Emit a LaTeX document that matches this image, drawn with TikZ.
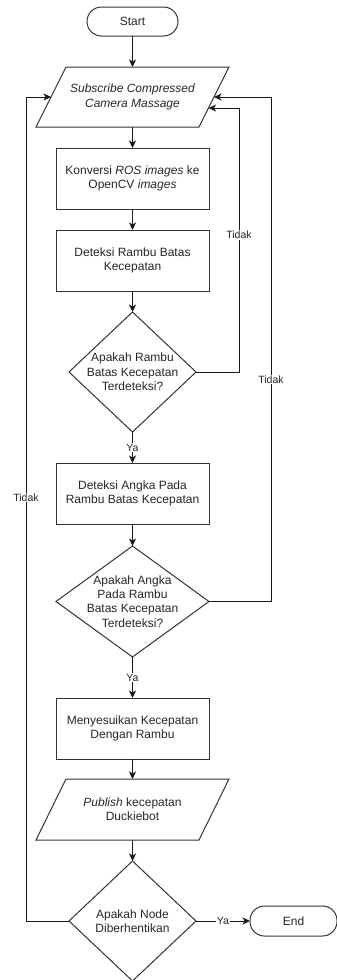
\documentclass[tikz,border=0pt]{standalone}
\usepackage{fontspec}
\setmainfont{Liberation Sans}
\usetikzlibrary{shapes.geometric,arrows.meta,calc}
\begin{document}
\begin{tikzpicture}[x=1pt,y=-1pt,
  every node/.style={font=\fontsize{12}{14.4}\selectfont, text=black!85},
  procbox/.style={draw=black!80, line width=1pt, minimum width=153pt, minimum height=61pt, inner sep=0pt, outer sep=0pt, align=center},
  decbox/.style={draw=black!80, line width=1pt, shape=diamond, inner sep=0pt, outer sep=0pt},
  iobody/.style={minimum width=133pt, inner sep=0pt, outer sep=0pt, align=center},
  ioline/.style={draw=black!80, line width=1pt, line join=miter},
  termbox/.style={draw=black!80, line width=1pt, rounded corners=14.5pt, inner sep=0pt, outer sep=0pt},
  txt/.style={align=center, inner sep=0pt},
  lbl/.style={fill=white, inner sep=1pt, font=\fontsize{10.5}{12}\selectfont},
  arr/.style={draw=black!90, line width=1pt, -{Stealth[length=7.5pt,width=7pt,inset=2pt]}}
]
\useasboundingbox (0,0) rectangle (337,980);

\node[termbox, minimum width=91pt, minimum height=29pt] (start) at (132.5,21.5) {Start};
\node[iobody, minimum height=60pt] (p1) at (132.5,97) {\itshape Subscribe Compressed\\\itshape Camera Massage};
\draw[ioline] (p1.north west) -- ($(p1.north east)+(30,0)$) -- (p1.south east) -- ($(p1.south west)+(-30,0)$) -- cycle;
\node[procbox] (r1) at (132.5,178.5) {Konversi \textit{ROS images} ke\\OpenCV \textit{images}};
\node[procbox] (r2) at (132.5,260.5) {Deteksi Rambu Batas\\Kecepatan};
\node[decbox, minimum width=127pt, minimum height=120pt] (d1) at (132.5,372) {};
\node[txt] (d1t) at (132.5,372) {Apakah Rambu\\Batas Kecepatan\\Terdeteksi?};
\node[procbox] (r3) at (132.5,493.5) {Deteksi Angka Pada\\Rambu Batas Kecepatan};
\node[decbox, minimum width=153pt, minimum height=111pt] (d2) at (132.5,601.5) {};
\node[txt] (d2t) at (132.5,601.5) {Apakah Angka\\Pada Rambu\\Batas Kecepatan\\Terdeteksi?};
\node[procbox] (r4) at (132.5,728.5) {Menyesuikan Kecepatan\\Dengan Rambu};
\node[iobody, minimum height=61pt] (p2) at (132.5,809.5) {\textit{Publish} kecepatan\\Duckiebot};
\draw[ioline] (p2.north west) -- ($(p2.north east)+(30,0)$) -- (p2.south east) -- ($(p2.south west)+(-30,0)$) -- cycle;
\node[decbox, minimum width=127pt, minimum height=120pt] (d3) at (132.5,921) {};
\node[txt] (d3t) at (132.5,921) {Apakah Node\\Diberhentikan};
\node[termbox, minimum width=87pt, minimum height=30pt] (end) at (293.5,921) {End};

\coordinate (p1w) at ($(p1.west)+(-15,0)$);
\coordinate (p1e) at ($(p1.east)+(15,0)$);
\coordinate (p1in) at ($(p1.south east)+(9.5,-19)$);

\draw[arr] (start) -- (p1);
\draw[arr] (p1) -- (r1);
\draw[arr] (r1) -- (r2);
\draw[arr] (r2) -- (d1);
\draw[arr] (d1) -- node[lbl] {Ya} (r3);
\draw[arr] (r3) -- (d2);
\draw[arr] (d2) -- node[lbl] {Ya} (r4);
\draw[arr] (r4) -- (p2);
\draw[arr] (p2) -- (d3);
\draw[arr] (d3) -- node[lbl] {Ya} (end);

\draw[arr] (d1.east) -- ++(43,0) |- node[lbl, pos=0.26] {Tidak} (p1in);
\draw[arr] (d2.east) -- ++(62,0) |- node[lbl, pos=0.22] {Tidak} (p1e);
\draw[arr] (d3.west) -- ++(-43,0) |- node[lbl, pos=0.257] {Tidak} (p1w);
\end{tikzpicture}
\end{document}
